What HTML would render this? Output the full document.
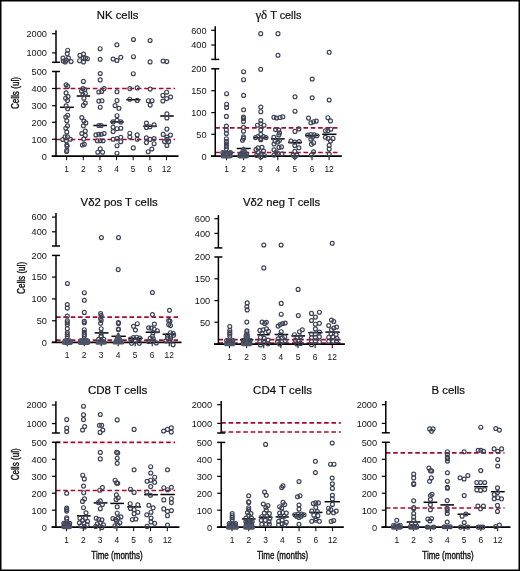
<!DOCTYPE html><html><head><meta charset="utf-8"><style>html,body{margin:0;padding:0;background:#fff;}svg{display:block;will-change:transform;}text{font-family:"Liberation Sans",sans-serif;fill:#111;}</style></head><body>
<svg width="520" height="571" viewBox="0 0 520 571">
<rect x="0" y="0" width="520" height="571" fill="#fff"/>
<text x="96.8" y="18.9" font-size="11.4" textLength="41.6" lengthAdjust="spacingAndGlyphs" fill="#000" stroke="#000" stroke-width="0.2">NK cells</text>
<line x1="56" y1="139.5" x2="175" y2="139.5" stroke="#a8082a" stroke-width="1.7" stroke-dasharray="4.6 2.75"/>
<line x1="56" y1="88.5" x2="175" y2="88.5" stroke="#a8082a" stroke-width="1.7" stroke-dasharray="4.6 2.75"/>
<line x1="56" y1="30.2" x2="56" y2="62.3" stroke="#000" stroke-width="1.5"/>
<line x1="52" y1="62.3" x2="60" y2="62.3" stroke="#000" stroke-width="1.5"/>
<line x1="52" y1="33.7" x2="56" y2="33.7" stroke="#000" stroke-width="1.2"/>
<line x1="52" y1="52.9" x2="56" y2="52.9" stroke="#000" stroke-width="1.2"/>
<line x1="56" y1="71.5" x2="56" y2="156.2" stroke="#000" stroke-width="1.5"/>
<line x1="52" y1="71.5" x2="60" y2="71.5" stroke="#000" stroke-width="1.5"/>
<line x1="52" y1="88.5" x2="56" y2="88.5" stroke="#000" stroke-width="1.2"/>
<line x1="52" y1="105.7" x2="56" y2="105.7" stroke="#000" stroke-width="1.2"/>
<line x1="52" y1="122.3" x2="56" y2="122.3" stroke="#000" stroke-width="1.2"/>
<line x1="52" y1="139.2" x2="56" y2="139.2" stroke="#000" stroke-width="1.2"/>
<line x1="52" y1="156.2" x2="56" y2="156.2" stroke="#000" stroke-width="1.2"/>
<line x1="51.7" y1="156.2" x2="178.5" y2="156.2" stroke="#000" stroke-width="1.7"/>
<line x1="66.6" y1="156.2" x2="66.6" y2="160.2" stroke="#000" stroke-width="1"/>
<text x="66.6" y="172" font-size="8.4" text-anchor="middle">1</text>
<line x1="83.25" y1="156.2" x2="83.25" y2="160.2" stroke="#000" stroke-width="1"/>
<text x="83.25" y="172" font-size="8.4" text-anchor="middle">2</text>
<line x1="99.9" y1="156.2" x2="99.9" y2="160.2" stroke="#000" stroke-width="1"/>
<text x="99.9" y="172" font-size="8.4" text-anchor="middle">3</text>
<line x1="116.55" y1="156.2" x2="116.55" y2="160.2" stroke="#000" stroke-width="1"/>
<text x="116.55" y="172" font-size="8.4" text-anchor="middle">4</text>
<line x1="133.2" y1="156.2" x2="133.2" y2="160.2" stroke="#000" stroke-width="1"/>
<text x="133.2" y="172" font-size="8.4" text-anchor="middle">5</text>
<line x1="149.85" y1="156.2" x2="149.85" y2="160.2" stroke="#000" stroke-width="1"/>
<text x="149.85" y="172" font-size="8.4" text-anchor="middle">6</text>
<line x1="166.5" y1="156.2" x2="166.5" y2="160.2" stroke="#000" stroke-width="1"/>
<text x="166.5" y="172" font-size="8.4" text-anchor="middle">12</text>
<text x="46.9" y="37" font-size="9.2" text-anchor="end">2000</text>
<text x="46.9" y="56.2" font-size="9.2" text-anchor="end">1000</text>
<text x="46.9" y="74.8" font-size="9.2" text-anchor="end">500</text>
<text x="46.9" y="91.8" font-size="9.2" text-anchor="end">400</text>
<text x="46.9" y="109" font-size="9.2" text-anchor="end">300</text>
<text x="46.9" y="125.6" font-size="9.2" text-anchor="end">200</text>
<text x="46.9" y="142.5" font-size="9.2" text-anchor="end">100</text>
<text x="46.9" y="159.5" font-size="9.2" text-anchor="end">0</text>
<text transform="translate(19.4,93.1) rotate(-90)" font-size="11.5" text-anchor="middle" textLength="32" lengthAdjust="spacingAndGlyphs" stroke="#111" stroke-width="0.4">Cells (ul)</text>
<line x1="60" y1="107.3" x2="73.8" y2="107.3" stroke="#000" stroke-width="1.5"/>
<line x1="76.7" y1="96" x2="90.1" y2="96" stroke="#000" stroke-width="1.5"/>
<line x1="93.4" y1="125.5" x2="107" y2="125.5" stroke="#000" stroke-width="1.5"/>
<line x1="110.3" y1="121.9" x2="123.7" y2="121.9" stroke="#000" stroke-width="1.5"/>
<line x1="126.3" y1="99.7" x2="140.5" y2="99.7" stroke="#000" stroke-width="1.5"/>
<line x1="143.2" y1="126.2" x2="156.8" y2="126.2" stroke="#000" stroke-width="1.5"/>
<line x1="160.25" y1="116" x2="173.75" y2="116" stroke="#000" stroke-width="1.5"/>
<g fill="none" stroke="#3e4355" stroke-width="1.2">
<circle cx="67.7" cy="50.2" r="1.95"/>
<circle cx="67.2" cy="53.8" r="1.95"/>
<circle cx="62.9" cy="58.1" r="1.95"/>
<circle cx="63.2" cy="61" r="1.95"/>
<circle cx="66.5" cy="60.3" r="1.95"/>
<circle cx="68.5" cy="58.1" r="1.95"/>
<circle cx="71.1" cy="61.6" r="1.95"/>
<circle cx="65.2" cy="62" r="1.95"/>
<circle cx="79.9" cy="55.4" r="1.95"/>
<circle cx="83.5" cy="54.1" r="1.95"/>
<circle cx="79.6" cy="60.7" r="1.95"/>
<circle cx="83.5" cy="62" r="1.95"/>
<circle cx="87.4" cy="58.7" r="1.95"/>
<circle cx="83.5" cy="58.1" r="1.95"/>
<circle cx="85.5" cy="58.1" r="1.95"/>
<circle cx="100.1" cy="48.7" r="1.95"/>
<circle cx="100.1" cy="59.25" r="1.95"/>
<circle cx="116.9" cy="44.8" r="1.95"/>
<circle cx="113.1" cy="59" r="1.95"/>
<circle cx="116.9" cy="60.5" r="1.95"/>
<circle cx="120.8" cy="57.3" r="1.95"/>
<circle cx="133.5" cy="39.5" r="1.95"/>
<circle cx="133.5" cy="56.7" r="1.95"/>
<circle cx="150.1" cy="40.5" r="1.95"/>
<circle cx="150.1" cy="61.9" r="1.95"/>
<circle cx="163.1" cy="61" r="1.95"/>
<circle cx="166.8" cy="61.6" r="1.95"/>
<circle cx="66.1" cy="84.75" r="1.95"/>
<circle cx="67.7" cy="86.4" r="1.95"/>
<circle cx="66.1" cy="92.9" r="1.95"/>
<circle cx="68" cy="96.6" r="1.95"/>
<circle cx="65.6" cy="98.2" r="1.95"/>
<circle cx="67.5" cy="100.6" r="1.95"/>
<circle cx="66.1" cy="105.9" r="1.95"/>
<circle cx="67.7" cy="108.8" r="1.95"/>
<circle cx="67.7" cy="115.2" r="1.95"/>
<circle cx="65.8" cy="117.1" r="1.95"/>
<circle cx="66.8" cy="120.7" r="1.95"/>
<circle cx="67.5" cy="125.8" r="1.95"/>
<circle cx="65.8" cy="128.2" r="1.95"/>
<circle cx="66.8" cy="132" r="1.95"/>
<circle cx="65.1" cy="136.8" r="1.95"/>
<circle cx="67.5" cy="136.8" r="1.95"/>
<circle cx="62.7" cy="139.5" r="1.95"/>
<circle cx="70.4" cy="139.25" r="1.95"/>
<circle cx="66.4" cy="140.7" r="1.95"/>
<circle cx="66.8" cy="145" r="1.95"/>
<circle cx="67.1" cy="146.3" r="1.95"/>
<circle cx="66.8" cy="150.3" r="1.95"/>
<circle cx="66.6" cy="151.5" r="1.95"/>
<circle cx="83.4" cy="81.4" r="1.95"/>
<circle cx="82.9" cy="88.6" r="1.95"/>
<circle cx="84.8" cy="89.6" r="1.95"/>
<circle cx="81.5" cy="91" r="1.95"/>
<circle cx="85.3" cy="93.4" r="1.95"/>
<circle cx="82.9" cy="94.8" r="1.95"/>
<circle cx="83.9" cy="98.2" r="1.95"/>
<circle cx="85.3" cy="103" r="1.95"/>
<circle cx="83.4" cy="105.4" r="1.95"/>
<circle cx="81.8" cy="117.6" r="1.95"/>
<circle cx="83.9" cy="121" r="1.95"/>
<circle cx="85.8" cy="122.9" r="1.95"/>
<circle cx="83.4" cy="125.8" r="1.95"/>
<circle cx="85.3" cy="131.1" r="1.95"/>
<circle cx="81.8" cy="133.5" r="1.95"/>
<circle cx="85.3" cy="135.4" r="1.95"/>
<circle cx="83.7" cy="139" r="1.95"/>
<circle cx="82.4" cy="145" r="1.95"/>
<circle cx="84.4" cy="144.3" r="1.95"/>
<circle cx="100.2" cy="73.5" r="1.95"/>
<circle cx="100.2" cy="79.9" r="1.95"/>
<circle cx="98.8" cy="92" r="1.95"/>
<circle cx="101.7" cy="91.5" r="1.95"/>
<circle cx="104.1" cy="88.6" r="1.95"/>
<circle cx="98.8" cy="101.1" r="1.95"/>
<circle cx="102" cy="100.8" r="1.95"/>
<circle cx="100.2" cy="107.2" r="1.95"/>
<circle cx="98.8" cy="125.5" r="1.95"/>
<circle cx="101.2" cy="125.5" r="1.95"/>
<circle cx="95.9" cy="134.9" r="1.95"/>
<circle cx="98.8" cy="134.2" r="1.95"/>
<circle cx="101.2" cy="134.2" r="1.95"/>
<circle cx="104.1" cy="133.5" r="1.95"/>
<circle cx="97.3" cy="140.7" r="1.95"/>
<circle cx="100.2" cy="140.7" r="1.95"/>
<circle cx="103.1" cy="140.7" r="1.95"/>
<circle cx="100.2" cy="148.9" r="1.95"/>
<circle cx="97.8" cy="152.2" r="1.95"/>
<circle cx="102.6" cy="152.2" r="1.95"/>
<circle cx="117" cy="91.8" r="1.95"/>
<circle cx="117" cy="100.6" r="1.95"/>
<circle cx="115.1" cy="105.6" r="1.95"/>
<circle cx="118.9" cy="108.3" r="1.95"/>
<circle cx="117" cy="115.7" r="1.95"/>
<circle cx="113.1" cy="121.9" r="1.95"/>
<circle cx="117" cy="120.3" r="1.95"/>
<circle cx="120.8" cy="121.9" r="1.95"/>
<circle cx="113.1" cy="127.2" r="1.95"/>
<circle cx="117" cy="128.7" r="1.95"/>
<circle cx="120.8" cy="128.2" r="1.95"/>
<circle cx="113.1" cy="131.6" r="1.95"/>
<circle cx="113.1" cy="139.25" r="1.95"/>
<circle cx="117" cy="138.6" r="1.95"/>
<circle cx="120.8" cy="137.3" r="1.95"/>
<circle cx="120.8" cy="141.7" r="1.95"/>
<circle cx="117" cy="145.7" r="1.95"/>
<circle cx="117" cy="153.2" r="1.95"/>
<circle cx="133.3" cy="73.7" r="1.95"/>
<circle cx="129.8" cy="88.6" r="1.95"/>
<circle cx="137.2" cy="87.9" r="1.95"/>
<circle cx="129.8" cy="99.2" r="1.95"/>
<circle cx="137.2" cy="100.4" r="1.95"/>
<circle cx="129.8" cy="133.2" r="1.95"/>
<circle cx="129.8" cy="137" r="1.95"/>
<circle cx="137.2" cy="134.9" r="1.95"/>
<circle cx="137.2" cy="139.25" r="1.95"/>
<circle cx="133.3" cy="147.9" r="1.95"/>
<circle cx="150.2" cy="89.1" r="1.95"/>
<circle cx="148.3" cy="100.7" r="1.95"/>
<circle cx="152.1" cy="100.7" r="1.95"/>
<circle cx="150.2" cy="105.1" r="1.95"/>
<circle cx="146.4" cy="123" r="1.95"/>
<circle cx="146.4" cy="127.6" r="1.95"/>
<circle cx="150" cy="126.7" r="1.95"/>
<circle cx="154.1" cy="124.8" r="1.95"/>
<circle cx="146.4" cy="137.9" r="1.95"/>
<circle cx="150" cy="139.4" r="1.95"/>
<circle cx="154.1" cy="138.5" r="1.95"/>
<circle cx="146.4" cy="142.6" r="1.95"/>
<circle cx="154.1" cy="143.7" r="1.95"/>
<circle cx="148.2" cy="151.7" r="1.95"/>
<circle cx="151.8" cy="149" r="1.95"/>
<circle cx="166.6" cy="92.2" r="1.95"/>
<circle cx="162.9" cy="95.4" r="1.95"/>
<circle cx="170.6" cy="97" r="1.95"/>
<circle cx="166.7" cy="98.6" r="1.95"/>
<circle cx="162.9" cy="101" r="1.95"/>
<circle cx="166.9" cy="113.9" r="1.95"/>
<circle cx="166.9" cy="118" r="1.95"/>
<circle cx="166.9" cy="129.1" r="1.95"/>
<circle cx="163.2" cy="134.4" r="1.95"/>
<circle cx="170.5" cy="135.1" r="1.95"/>
<circle cx="166.9" cy="137.1" r="1.95"/>
<circle cx="164.6" cy="141.5" r="1.95"/>
<circle cx="168.7" cy="141.5" r="1.95"/>
<circle cx="166.9" cy="139.4" r="1.95"/>
<circle cx="166.9" cy="145.5" r="1.95"/>
</g>
<text x="255.4" y="18.9" font-size="11.4" textLength="46" lengthAdjust="spacingAndGlyphs" fill="#000" stroke="#000" stroke-width="0.2"><tspan style="font-family:Liberation Serif;font-size:13.5px">γδ</tspan> T cells</text>
<line x1="215.25" y1="127.8" x2="337.7" y2="127.8" stroke="#a8082a" stroke-width="1.7" stroke-dasharray="4.6 2.75"/>
<line x1="215.25" y1="152.5" x2="337.7" y2="152.5" stroke="#a8082a" stroke-width="1.7" stroke-dasharray="4.6 2.75"/>
<line x1="215.25" y1="26.3" x2="215.25" y2="59.4" stroke="#000" stroke-width="1.5"/>
<line x1="211.25" y1="59.4" x2="219.25" y2="59.4" stroke="#000" stroke-width="1.5"/>
<line x1="211.25" y1="30.3" x2="215.25" y2="30.3" stroke="#000" stroke-width="1.2"/>
<line x1="211.25" y1="45" x2="215.25" y2="45" stroke="#000" stroke-width="1.2"/>
<line x1="215.25" y1="68.8" x2="215.25" y2="156.2" stroke="#000" stroke-width="1.5"/>
<line x1="211.25" y1="68.8" x2="219.25" y2="68.8" stroke="#000" stroke-width="1.5"/>
<line x1="211.25" y1="90.7" x2="215.25" y2="90.7" stroke="#000" stroke-width="1.2"/>
<line x1="211.25" y1="112.6" x2="215.25" y2="112.6" stroke="#000" stroke-width="1.2"/>
<line x1="211.25" y1="134.3" x2="215.25" y2="134.3" stroke="#000" stroke-width="1.2"/>
<line x1="211.25" y1="156.2" x2="215.25" y2="156.2" stroke="#000" stroke-width="1.2"/>
<line x1="210.95" y1="156.2" x2="341.8" y2="156.2" stroke="#000" stroke-width="1.7"/>
<line x1="226.5" y1="156.2" x2="226.5" y2="160.2" stroke="#000" stroke-width="1"/>
<text x="226.5" y="172" font-size="8.4" text-anchor="middle">1</text>
<line x1="243.6" y1="156.2" x2="243.6" y2="160.2" stroke="#000" stroke-width="1"/>
<text x="243.6" y="172" font-size="8.4" text-anchor="middle">2</text>
<line x1="260.7" y1="156.2" x2="260.7" y2="160.2" stroke="#000" stroke-width="1"/>
<text x="260.7" y="172" font-size="8.4" text-anchor="middle">3</text>
<line x1="277.8" y1="156.2" x2="277.8" y2="160.2" stroke="#000" stroke-width="1"/>
<text x="277.8" y="172" font-size="8.4" text-anchor="middle">4</text>
<line x1="294.9" y1="156.2" x2="294.9" y2="160.2" stroke="#000" stroke-width="1"/>
<text x="294.9" y="172" font-size="8.4" text-anchor="middle">5</text>
<line x1="312" y1="156.2" x2="312" y2="160.2" stroke="#000" stroke-width="1"/>
<text x="312" y="172" font-size="8.4" text-anchor="middle">6</text>
<line x1="329.1" y1="156.2" x2="329.1" y2="160.2" stroke="#000" stroke-width="1"/>
<text x="329.1" y="172" font-size="8.4" text-anchor="middle">12</text>
<text x="206.5" y="33.6" font-size="9.2" text-anchor="end">600</text>
<text x="206.5" y="48.3" font-size="9.2" text-anchor="end">400</text>
<text x="206.5" y="72.1" font-size="9.2" text-anchor="end">200</text>
<text x="206.5" y="94" font-size="9.2" text-anchor="end">150</text>
<text x="206.5" y="115.9" font-size="9.2" text-anchor="end">100</text>
<text x="206.5" y="137.6" font-size="9.2" text-anchor="end">50</text>
<text x="206.5" y="159.5" font-size="9.2" text-anchor="end">0</text>
<line x1="236.7" y1="148.5" x2="250.7" y2="148.5" stroke="#000" stroke-width="1.5"/>
<line x1="253.85" y1="137.6" x2="267.85" y2="137.6" stroke="#000" stroke-width="1.5"/>
<line x1="271" y1="138.9" x2="284.7" y2="138.9" stroke="#000" stroke-width="1.5"/>
<line x1="288.1" y1="142.5" x2="302.1" y2="142.5" stroke="#000" stroke-width="1.5"/>
<line x1="305" y1="135.4" x2="319.5" y2="135.4" stroke="#000" stroke-width="1.5"/>
<line x1="322.2" y1="134.3" x2="336.5" y2="134.3" stroke="#000" stroke-width="1.5"/>
<polygon points="222.5,156.4 223.45,153.1 230.05,153.1 231,156.4" fill="#4e5467" stroke="#4e5467" stroke-width="4" stroke-linejoin="round"/>
<polygon points="239.2,156.4 240.2,154.8 246.2,154.8 247.2,156.4" fill="#4e5467" stroke="#4e5467" stroke-width="4" stroke-linejoin="round"/>
<polygon points="241.4,152 243.6,148.1 243.8,148.1 246,152" fill="#4e5467" stroke="#4e5467" stroke-width="3" stroke-linejoin="round"/>
<g fill="none" stroke="#3e4355" stroke-width="1.2">
<circle cx="226.6" cy="93.7" r="1.95"/>
<circle cx="226.6" cy="104.2" r="1.95"/>
<circle cx="226.6" cy="107.5" r="1.95"/>
<circle cx="226.4" cy="116.4" r="1.95"/>
<circle cx="226.4" cy="126" r="1.95"/>
<circle cx="226.4" cy="129.9" r="1.95"/>
<circle cx="226.4" cy="133.4" r="1.95"/>
<circle cx="226.4" cy="138.7" r="1.95"/>
<circle cx="226.4" cy="141.6" r="1.95"/>
<circle cx="226.4" cy="144" r="1.95"/>
<circle cx="226.4" cy="146.4" r="1.95"/>
<circle cx="226.4" cy="148.8" r="1.95"/>
<circle cx="243.6" cy="71.7" r="1.95"/>
<circle cx="243.6" cy="79.7" r="1.95"/>
<circle cx="243.6" cy="95.4" r="1.95"/>
<circle cx="243.6" cy="109.8" r="1.95"/>
<circle cx="243.5" cy="117" r="1.95"/>
<circle cx="243.5" cy="118.5" r="1.95"/>
<circle cx="243.5" cy="121.4" r="1.95"/>
<circle cx="243.5" cy="127.4" r="1.95"/>
<circle cx="243.5" cy="131.2" r="1.95"/>
<circle cx="243.5" cy="136.8" r="1.95"/>
<circle cx="243.5" cy="138.2" r="1.95"/>
<circle cx="242.5" cy="140.2" r="1.95"/>
<circle cx="260.7" cy="33.65" r="1.95"/>
<circle cx="260.7" cy="69.3" r="1.95"/>
<circle cx="260.8" cy="107.1" r="1.95"/>
<circle cx="260.8" cy="111.7" r="1.95"/>
<circle cx="260.8" cy="120.6" r="1.95"/>
<circle cx="260.8" cy="123.8" r="1.95"/>
<circle cx="257.5" cy="125.2" r="1.95"/>
<circle cx="264" cy="125.2" r="1.95"/>
<circle cx="260.8" cy="129.9" r="1.95"/>
<circle cx="260.8" cy="134.4" r="1.95"/>
<circle cx="255.5" cy="137.6" r="1.95"/>
<circle cx="258" cy="136.5" r="1.95"/>
<circle cx="260.8" cy="138.5" r="1.95"/>
<circle cx="263.5" cy="136.5" r="1.95"/>
<circle cx="266" cy="137.6" r="1.95"/>
<circle cx="260.8" cy="139.7" r="1.95"/>
<circle cx="258" cy="147.9" r="1.95"/>
<circle cx="262" cy="147.4" r="1.95"/>
<circle cx="256" cy="149.5" r="1.95"/>
<circle cx="263.5" cy="151" r="1.95"/>
<circle cx="258.5" cy="152.5" r="1.95"/>
<circle cx="260.8" cy="154.5" r="1.95"/>
<circle cx="256.5" cy="155.5" r="1.95"/>
<circle cx="264.5" cy="155.5" r="1.95"/>
<circle cx="260.8" cy="157" r="1.95"/>
<circle cx="278" cy="33.65" r="1.95"/>
<circle cx="278" cy="55.3" r="1.95"/>
<circle cx="273.9" cy="117.3" r="1.95"/>
<circle cx="276.5" cy="118" r="1.95"/>
<circle cx="280" cy="117.5" r="1.95"/>
<circle cx="282.8" cy="116.8" r="1.95"/>
<circle cx="275.5" cy="129.6" r="1.95"/>
<circle cx="278.8" cy="130" r="1.95"/>
<circle cx="279.5" cy="132.9" r="1.95"/>
<circle cx="278.8" cy="134.9" r="1.95"/>
<circle cx="273.9" cy="137.3" r="1.95"/>
<circle cx="275" cy="141.1" r="1.95"/>
<circle cx="279.5" cy="140.2" r="1.95"/>
<circle cx="274" cy="144" r="1.95"/>
<circle cx="277.8" cy="142.1" r="1.95"/>
<circle cx="279" cy="147.4" r="1.95"/>
<circle cx="281.5" cy="146.9" r="1.95"/>
<circle cx="274" cy="149.8" r="1.95"/>
<circle cx="274" cy="155.1" r="1.95"/>
<circle cx="278" cy="153.2" r="1.95"/>
<circle cx="282" cy="153.7" r="1.95"/>
<circle cx="276" cy="152.2" r="1.95"/>
<circle cx="295" cy="96.8" r="1.95"/>
<circle cx="295" cy="111.2" r="1.95"/>
<circle cx="295" cy="131.4" r="1.95"/>
<circle cx="298.9" cy="128.9" r="1.95"/>
<circle cx="291" cy="141.1" r="1.95"/>
<circle cx="294.8" cy="142.1" r="1.95"/>
<circle cx="299.1" cy="141.6" r="1.95"/>
<circle cx="294.8" cy="145.4" r="1.95"/>
<circle cx="298.9" cy="147.8" r="1.95"/>
<circle cx="294.8" cy="151.3" r="1.95"/>
<circle cx="293.1" cy="155" r="1.95"/>
<circle cx="296.9" cy="155" r="1.95"/>
<circle cx="294.8" cy="156.7" r="1.95"/>
<circle cx="312.2" cy="79" r="1.95"/>
<circle cx="312.2" cy="97.8" r="1.95"/>
<circle cx="308.5" cy="118.1" r="1.95"/>
<circle cx="310.9" cy="122.8" r="1.95"/>
<circle cx="313.6" cy="121.7" r="1.95"/>
<circle cx="316.3" cy="121.1" r="1.95"/>
<circle cx="307.7" cy="135.1" r="1.95"/>
<circle cx="310.9" cy="134.6" r="1.95"/>
<circle cx="314.1" cy="134.9" r="1.95"/>
<circle cx="316.8" cy="135.7" r="1.95"/>
<circle cx="312.5" cy="137.3" r="1.95"/>
<circle cx="310.9" cy="139.2" r="1.95"/>
<circle cx="311.4" cy="144.3" r="1.95"/>
<circle cx="313.6" cy="142.7" r="1.95"/>
<circle cx="313.6" cy="151.8" r="1.95"/>
<circle cx="311.4" cy="155" r="1.95"/>
<circle cx="329.2" cy="52.3" r="1.95"/>
<circle cx="329.2" cy="100" r="1.95"/>
<circle cx="327.9" cy="117.7" r="1.95"/>
<circle cx="330.5" cy="120.9" r="1.95"/>
<circle cx="325.4" cy="130.8" r="1.95"/>
<circle cx="327.9" cy="130.8" r="1.95"/>
<circle cx="330.8" cy="129.2" r="1.95"/>
<circle cx="325.4" cy="137.3" r="1.95"/>
<circle cx="328.1" cy="138.4" r="1.95"/>
<circle cx="333" cy="138.4" r="1.95"/>
<circle cx="330.5" cy="141.1" r="1.95"/>
<circle cx="329.2" cy="145.4" r="1.95"/>
<circle cx="329.2" cy="149.1" r="1.95"/>
<circle cx="329.2" cy="154" r="1.95"/>
<circle cx="222.8" cy="152.6" r="1.95"/>
<circle cx="230.4" cy="152.6" r="1.95"/>
<circle cx="240.2" cy="154.2" r="1.95"/>
<circle cx="246.6" cy="154.2" r="1.95"/>
</g>
<text x="80.6" y="205.7" font-size="11.4" textLength="77" lengthAdjust="spacingAndGlyphs" fill="#000" stroke="#000" stroke-width="0.2">Vδ2 pos T cells</text>
<line x1="56" y1="317.1" x2="178" y2="317.1" stroke="#a8082a" stroke-width="1.7" stroke-dasharray="4.6 2.75"/>
<line x1="56" y1="340.1" x2="178" y2="340.1" stroke="#a8082a" stroke-width="1.7" stroke-dasharray="4.6 2.75"/>
<line x1="56" y1="213.1" x2="56" y2="246" stroke="#000" stroke-width="1.5"/>
<line x1="52" y1="246" x2="60" y2="246" stroke="#000" stroke-width="1.5"/>
<line x1="52" y1="217.1" x2="56" y2="217.1" stroke="#000" stroke-width="1.2"/>
<line x1="52" y1="231.8" x2="56" y2="231.8" stroke="#000" stroke-width="1.2"/>
<line x1="56" y1="255.4" x2="56" y2="342.3" stroke="#000" stroke-width="1.5"/>
<line x1="52" y1="255.4" x2="60" y2="255.4" stroke="#000" stroke-width="1.5"/>
<line x1="52" y1="277.1" x2="56" y2="277.1" stroke="#000" stroke-width="1.2"/>
<line x1="52" y1="298.9" x2="56" y2="298.9" stroke="#000" stroke-width="1.2"/>
<line x1="52" y1="320.8" x2="56" y2="320.8" stroke="#000" stroke-width="1.2"/>
<line x1="52" y1="342.3" x2="56" y2="342.3" stroke="#000" stroke-width="1.2"/>
<line x1="51.7" y1="342.3" x2="181.5" y2="342.3" stroke="#000" stroke-width="1.7"/>
<line x1="67.2" y1="342.3" x2="67.2" y2="346.3" stroke="#000" stroke-width="1"/>
<text x="67.2" y="358.1" font-size="8.4" text-anchor="middle">1</text>
<line x1="84.2" y1="342.3" x2="84.2" y2="346.3" stroke="#000" stroke-width="1"/>
<text x="84.2" y="358.1" font-size="8.4" text-anchor="middle">2</text>
<line x1="101.2" y1="342.3" x2="101.2" y2="346.3" stroke="#000" stroke-width="1"/>
<text x="101.2" y="358.1" font-size="8.4" text-anchor="middle">3</text>
<line x1="118.2" y1="342.3" x2="118.2" y2="346.3" stroke="#000" stroke-width="1"/>
<text x="118.2" y="358.1" font-size="8.4" text-anchor="middle">4</text>
<line x1="135.2" y1="342.3" x2="135.2" y2="346.3" stroke="#000" stroke-width="1"/>
<text x="135.2" y="358.1" font-size="8.4" text-anchor="middle">5</text>
<line x1="152.2" y1="342.3" x2="152.2" y2="346.3" stroke="#000" stroke-width="1"/>
<text x="152.2" y="358.1" font-size="8.4" text-anchor="middle">6</text>
<line x1="169.2" y1="342.3" x2="169.2" y2="346.3" stroke="#000" stroke-width="1"/>
<text x="169.2" y="358.1" font-size="8.4" text-anchor="middle">12</text>
<text x="46.9" y="220.4" font-size="9.2" text-anchor="end">600</text>
<text x="46.9" y="235.1" font-size="9.2" text-anchor="end">400</text>
<text x="46.9" y="258.7" font-size="9.2" text-anchor="end">200</text>
<text x="46.9" y="280.4" font-size="9.2" text-anchor="end">150</text>
<text x="46.9" y="302.2" font-size="9.2" text-anchor="end">100</text>
<text x="46.9" y="324.1" font-size="9.2" text-anchor="end">50</text>
<text x="46.9" y="345.6" font-size="9.2" text-anchor="end">0</text>
<text transform="translate(24.9,277.9) rotate(-90)" font-size="11.5" text-anchor="middle" textLength="32" lengthAdjust="spacingAndGlyphs" stroke="#111" stroke-width="0.4">Cells (ul)</text>
<line x1="94.7" y1="332.9" x2="108.5" y2="332.9" stroke="#000" stroke-width="1.5"/>
<line x1="111.4" y1="336.3" x2="125.8" y2="336.3" stroke="#000" stroke-width="1.5"/>
<line x1="145.6" y1="332.2" x2="159.8" y2="332.2" stroke="#000" stroke-width="1.5"/>
<line x1="162.6" y1="334.3" x2="176.1" y2="334.3" stroke="#000" stroke-width="1.5"/>
<line x1="128.5" y1="338.3" x2="142.7" y2="338.3" stroke="#000" stroke-width="1.5"/>
<polygon points="64.1,342.5 65,340.7 69.6,340.7 70.5,342.5" fill="#4e5467" stroke="#4e5467" stroke-width="5" stroke-linejoin="round"/>
<polygon points="80.1,342.5 81,340.5 87,340.5 87.9,342.5" fill="#4e5467" stroke="#4e5467" stroke-width="5" stroke-linejoin="round"/>
<polygon points="97,343.2 99.7,340 102.7,340 105.4,343.2" fill="#4e5467" stroke="#4e5467" stroke-width="3" stroke-linejoin="round"/>
<polygon points="113.7,343.3 118.3,333.8 118.3,333.8 122.9,343.3" fill="#4e5467" stroke="#4e5467" stroke-width="2.4" stroke-linejoin="round"/>
<g fill="none" stroke="#3e4355" stroke-width="1.2">
<circle cx="67.4" cy="283.5" r="1.95"/>
<circle cx="67.3" cy="304.5" r="1.95"/>
<circle cx="67.3" cy="308.1" r="1.95"/>
<circle cx="67.3" cy="316" r="1.95"/>
<circle cx="67.3" cy="320.9" r="1.95"/>
<circle cx="67.3" cy="322.8" r="1.95"/>
<circle cx="67.3" cy="324.8" r="1.95"/>
<circle cx="67.3" cy="328.7" r="1.95"/>
<circle cx="67.3" cy="332.6" r="1.95"/>
<circle cx="67.3" cy="334.6" r="1.95"/>
<circle cx="67.3" cy="336.6" r="1.95"/>
<circle cx="84.3" cy="292.7" r="1.95"/>
<circle cx="84.3" cy="300.3" r="1.95"/>
<circle cx="84.3" cy="312.4" r="1.95"/>
<circle cx="84.3" cy="321.4" r="1.95"/>
<circle cx="84.3" cy="322.8" r="1.95"/>
<circle cx="101.4" cy="237.6" r="1.95"/>
<circle cx="100.6" cy="313.5" r="1.95"/>
<circle cx="101.2" cy="315.5" r="1.95"/>
<circle cx="100.6" cy="318.4" r="1.95"/>
<circle cx="101.2" cy="320.4" r="1.95"/>
<circle cx="100.6" cy="323.3" r="1.95"/>
<circle cx="101.2" cy="328.7" r="1.95"/>
<circle cx="101.2" cy="333.1" r="1.95"/>
<circle cx="101.2" cy="336.1" r="1.95"/>
<circle cx="118.5" cy="237.6" r="1.95"/>
<circle cx="118.2" cy="269.6" r="1.95"/>
<circle cx="133.5" cy="326.3" r="1.95"/>
<circle cx="137.3" cy="323.7" r="1.95"/>
<circle cx="135.4" cy="330.1" r="1.95"/>
<circle cx="152.4" cy="292.5" r="1.95"/>
<circle cx="152.4" cy="314.6" r="1.95"/>
<circle cx="154.4" cy="324.1" r="1.95"/>
<circle cx="148.6" cy="327.8" r="1.95"/>
<circle cx="151.2" cy="328.1" r="1.95"/>
<circle cx="154.2" cy="329.2" r="1.95"/>
<circle cx="157.3" cy="330.7" r="1.95"/>
<circle cx="153" cy="332.7" r="1.95"/>
<circle cx="152.4" cy="336.3" r="1.95"/>
<circle cx="150.2" cy="338.3" r="1.95"/>
<circle cx="153.2" cy="338.8" r="1.95"/>
<circle cx="148.6" cy="341.4" r="1.95"/>
<circle cx="156.3" cy="342.9" r="1.95"/>
<circle cx="152" cy="341.4" r="1.95"/>
<circle cx="169.5" cy="310.3" r="1.95"/>
<circle cx="168.7" cy="320.5" r="1.95"/>
<circle cx="170" cy="321" r="1.95"/>
<circle cx="168.7" cy="324.6" r="1.95"/>
<circle cx="170.5" cy="325.6" r="1.95"/>
<circle cx="170.5" cy="332.7" r="1.95"/>
<circle cx="173.1" cy="333.2" r="1.95"/>
<circle cx="167.5" cy="335.3" r="1.95"/>
<circle cx="170.5" cy="336.3" r="1.95"/>
<circle cx="173.6" cy="335.3" r="1.95"/>
<circle cx="167.5" cy="337.8" r="1.95"/>
<circle cx="170.5" cy="338.8" r="1.95"/>
<circle cx="166" cy="340.9" r="1.95"/>
<circle cx="169.5" cy="340.9" r="1.95"/>
<circle cx="173.1" cy="344.7" r="1.95"/>
<circle cx="118.4" cy="322.6" r="1.95"/>
<circle cx="118.4" cy="323.4" r="1.95"/>
<circle cx="118.4" cy="329.1" r="1.95"/>
<circle cx="118.4" cy="329.6" r="1.95"/>
<circle cx="130.6" cy="339" r="1.95"/>
<circle cx="133.4" cy="337.6" r="1.95"/>
<circle cx="136.6" cy="337.2" r="1.95"/>
<circle cx="139.6" cy="338" r="1.95"/>
<circle cx="131.6" cy="343.3" r="1.95"/>
<circle cx="139.3" cy="343.3" r="1.95"/>
<circle cx="135.3" cy="341.2" r="1.95"/>
<circle cx="84.3" cy="329.7" r="1.95"/>
<circle cx="84.3" cy="332.3" r="1.95"/>
<circle cx="84.3" cy="334.4" r="1.95"/>
<circle cx="84.3" cy="336.2" r="1.95"/>
<circle cx="98.6" cy="339.3" r="1.95"/>
<circle cx="103.8" cy="339.3" r="1.95"/>
<circle cx="101.2" cy="336.2" r="1.95"/>
</g>
<text x="243.1" y="205.7" font-size="11.4" textLength="77" lengthAdjust="spacingAndGlyphs" fill="#000" stroke="#000" stroke-width="0.2">Vδ2 neg T cells</text>
<line x1="218.4" y1="339.6" x2="341" y2="339.6" stroke="#a8082a" stroke-width="1.7" stroke-dasharray="4.6 2.75"/>
<line x1="218.4" y1="343" x2="341" y2="343" stroke="#a8082a" stroke-width="1.7" stroke-dasharray="4.6 2.75"/>
<line x1="218.4" y1="215" x2="218.4" y2="247.9" stroke="#000" stroke-width="1.5"/>
<line x1="214.4" y1="247.9" x2="222.4" y2="247.9" stroke="#000" stroke-width="1.5"/>
<line x1="214.4" y1="218.7" x2="218.4" y2="218.7" stroke="#000" stroke-width="1.2"/>
<line x1="214.4" y1="233.4" x2="218.4" y2="233.4" stroke="#000" stroke-width="1.2"/>
<line x1="218.4" y1="257" x2="218.4" y2="344.2" stroke="#000" stroke-width="1.5"/>
<line x1="214.4" y1="257" x2="222.4" y2="257" stroke="#000" stroke-width="1.5"/>
<line x1="214.4" y1="278.8" x2="218.4" y2="278.8" stroke="#000" stroke-width="1.2"/>
<line x1="214.4" y1="300.6" x2="218.4" y2="300.6" stroke="#000" stroke-width="1.2"/>
<line x1="214.4" y1="322.2" x2="218.4" y2="322.2" stroke="#000" stroke-width="1.2"/>
<line x1="214.4" y1="344.2" x2="218.4" y2="344.2" stroke="#000" stroke-width="1.2"/>
<line x1="214.1" y1="344.2" x2="344.9" y2="344.2" stroke="#000" stroke-width="1.7"/>
<line x1="229.5" y1="344.2" x2="229.5" y2="348.2" stroke="#000" stroke-width="1"/>
<text x="229.5" y="360" font-size="8.4" text-anchor="middle">1</text>
<line x1="246.63" y1="344.2" x2="246.63" y2="348.2" stroke="#000" stroke-width="1"/>
<text x="246.63" y="360" font-size="8.4" text-anchor="middle">2</text>
<line x1="263.76" y1="344.2" x2="263.76" y2="348.2" stroke="#000" stroke-width="1"/>
<text x="263.76" y="360" font-size="8.4" text-anchor="middle">3</text>
<line x1="280.89" y1="344.2" x2="280.89" y2="348.2" stroke="#000" stroke-width="1"/>
<text x="280.89" y="360" font-size="8.4" text-anchor="middle">4</text>
<line x1="298.02" y1="344.2" x2="298.02" y2="348.2" stroke="#000" stroke-width="1"/>
<text x="298.02" y="360" font-size="8.4" text-anchor="middle">5</text>
<line x1="315.15" y1="344.2" x2="315.15" y2="348.2" stroke="#000" stroke-width="1"/>
<text x="315.15" y="360" font-size="8.4" text-anchor="middle">6</text>
<line x1="332.28" y1="344.2" x2="332.28" y2="348.2" stroke="#000" stroke-width="1"/>
<text x="332.28" y="360" font-size="8.4" text-anchor="middle">12</text>
<text x="210.2" y="222" font-size="9.2" text-anchor="end">600</text>
<text x="210.2" y="236.7" font-size="9.2" text-anchor="end">400</text>
<text x="210.2" y="260.3" font-size="9.2" text-anchor="end">200</text>
<text x="210.2" y="282.1" font-size="9.2" text-anchor="end">150</text>
<text x="210.2" y="303.9" font-size="9.2" text-anchor="end">100</text>
<text x="210.2" y="325.5" font-size="9.2" text-anchor="end">50</text>
<line x1="240" y1="339.7" x2="253.4" y2="339.7" stroke="#000" stroke-width="1.5"/>
<line x1="257.2" y1="334.7" x2="269.6" y2="334.7" stroke="#000" stroke-width="1.5"/>
<line x1="274.6" y1="334.5" x2="288.3" y2="334.5" stroke="#000" stroke-width="1.5"/>
<line x1="291.3" y1="335.9" x2="305.1" y2="335.9" stroke="#000" stroke-width="1.5"/>
<line x1="308.2" y1="332.6" x2="322.6" y2="332.6" stroke="#000" stroke-width="1.5"/>
<line x1="325.4" y1="332.1" x2="339.8" y2="332.1" stroke="#000" stroke-width="1.5"/>
<polygon points="225.8,344.2 228.2,340.6 231.2,340.6 233.6,344.2" fill="#4e5467" stroke="#4e5467" stroke-width="4" stroke-linejoin="round"/>
<polygon points="242.8,344.2 244.65,340 248.65,340 250.5,344.2" fill="#4e5467" stroke="#4e5467" stroke-width="4" stroke-linejoin="round"/>
<polygon points="245.4,336.5 246.6,331.2 247,331.2 248.2,336.5" fill="#4e5467" stroke="#4e5467" stroke-width="4" stroke-linejoin="round"/>
<circle cx="246.9" cy="330.9" r="1.95" fill="#a4a8b5" stroke="#3e4355" stroke-width="1.2"/>
<g fill="none" stroke="#3e4355" stroke-width="1.2">
<circle cx="229.8" cy="326.6" r="1.95"/>
<circle cx="229.8" cy="330.4" r="1.95"/>
<circle cx="229.8" cy="332.5" r="1.95"/>
<circle cx="229.8" cy="334.1" r="1.95"/>
<circle cx="229.8" cy="336.3" r="1.95"/>
<circle cx="247.2" cy="302.9" r="1.95"/>
<circle cx="246.8" cy="306.7" r="1.95"/>
<circle cx="247.2" cy="309.9" r="1.95"/>
<circle cx="246.8" cy="322.1" r="1.95"/>
<circle cx="263.8" cy="245" r="1.95"/>
<circle cx="263.8" cy="267.9" r="1.95"/>
<circle cx="262.1" cy="322.1" r="1.95"/>
<circle cx="264.7" cy="323.4" r="1.95"/>
<circle cx="266.4" cy="322.3" r="1.95"/>
<circle cx="259.9" cy="330.4" r="1.95"/>
<circle cx="263.1" cy="329.8" r="1.95"/>
<circle cx="266.4" cy="328.8" r="1.95"/>
<circle cx="268.5" cy="331.4" r="1.95"/>
<circle cx="262.1" cy="333.6" r="1.95"/>
<circle cx="260.4" cy="337.4" r="1.95"/>
<circle cx="264.2" cy="338.4" r="1.95"/>
<circle cx="268" cy="340.1" r="1.95"/>
<circle cx="259.9" cy="341.7" r="1.95"/>
<circle cx="264.2" cy="342.7" r="1.95"/>
<circle cx="268" cy="343.8" r="1.95"/>
<circle cx="260.4" cy="344.9" r="1.95"/>
<circle cx="281.1" cy="245" r="1.95"/>
<circle cx="281.2" cy="303.4" r="1.95"/>
<circle cx="281.2" cy="314.2" r="1.95"/>
<circle cx="278.1" cy="326.1" r="1.95"/>
<circle cx="280.2" cy="324.6" r="1.95"/>
<circle cx="282.7" cy="323.5" r="1.95"/>
<circle cx="285.2" cy="323" r="1.95"/>
<circle cx="281.2" cy="331.7" r="1.95"/>
<circle cx="280.2" cy="334.7" r="1.95"/>
<circle cx="284.7" cy="336.7" r="1.95"/>
<circle cx="278.1" cy="338.8" r="1.95"/>
<circle cx="282.2" cy="337.8" r="1.95"/>
<circle cx="277.6" cy="341.8" r="1.95"/>
<circle cx="281.7" cy="341.3" r="1.95"/>
<circle cx="285.2" cy="340.8" r="1.95"/>
<circle cx="279.7" cy="343.9" r="1.95"/>
<circle cx="298.1" cy="289.4" r="1.95"/>
<circle cx="298.3" cy="315.6" r="1.95"/>
<circle cx="294.4" cy="334.7" r="1.95"/>
<circle cx="299.5" cy="331.7" r="1.95"/>
<circle cx="302.3" cy="329.8" r="1.95"/>
<circle cx="297.4" cy="337.8" r="1.95"/>
<circle cx="300.5" cy="336.7" r="1.95"/>
<circle cx="295.4" cy="340.3" r="1.95"/>
<circle cx="299" cy="340.8" r="1.95"/>
<circle cx="296.9" cy="343.9" r="1.95"/>
<circle cx="300.5" cy="343.4" r="1.95"/>
<circle cx="311.5" cy="313.4" r="1.95"/>
<circle cx="319.4" cy="312.2" r="1.95"/>
<circle cx="315.4" cy="317.1" r="1.95"/>
<circle cx="311.5" cy="320.5" r="1.95"/>
<circle cx="315.4" cy="324.2" r="1.95"/>
<circle cx="319.4" cy="323.3" r="1.95"/>
<circle cx="315.4" cy="328.9" r="1.95"/>
<circle cx="311.5" cy="334" r="1.95"/>
<circle cx="315.4" cy="334" r="1.95"/>
<circle cx="319.4" cy="332.1" r="1.95"/>
<circle cx="311.5" cy="337.7" r="1.95"/>
<circle cx="315.4" cy="337.2" r="1.95"/>
<circle cx="319.4" cy="336.8" r="1.95"/>
<circle cx="311.5" cy="341.4" r="1.95"/>
<circle cx="315.4" cy="341.4" r="1.95"/>
<circle cx="319.4" cy="341.9" r="1.95"/>
<circle cx="311.5" cy="344.7" r="1.95"/>
<circle cx="332.2" cy="243.3" r="1.95"/>
<circle cx="331.5" cy="320.1" r="1.95"/>
<circle cx="333.8" cy="321.5" r="1.95"/>
<circle cx="328.7" cy="325.6" r="1.95"/>
<circle cx="333.8" cy="328" r="1.95"/>
<circle cx="336.6" cy="327" r="1.95"/>
<circle cx="331.5" cy="329.8" r="1.95"/>
<circle cx="331" cy="334" r="1.95"/>
<circle cx="336.1" cy="334.5" r="1.95"/>
<circle cx="328.7" cy="337.2" r="1.95"/>
<circle cx="332.9" cy="336.8" r="1.95"/>
<circle cx="337" cy="338.6" r="1.95"/>
<circle cx="328.7" cy="341.4" r="1.95"/>
<circle cx="332.9" cy="341.4" r="1.95"/>
<circle cx="336.6" cy="341" r="1.95"/>
<circle cx="226.6" cy="340.5" r="1.95"/>
<circle cx="232.8" cy="340.5" r="1.95"/>
<circle cx="243.2" cy="340.2" r="1.95"/>
<circle cx="250.2" cy="340.2" r="1.95"/>
</g>
<text x="87.9" y="393.7" font-size="11.4" textLength="59.4" lengthAdjust="spacingAndGlyphs" fill="#000" stroke="#000" stroke-width="0.2">CD8 T cells</text>
<line x1="55.9" y1="442.3" x2="175" y2="442.3" stroke="#a8082a" stroke-width="1.7" stroke-dasharray="4.6 2.75"/>
<line x1="55.9" y1="490.5" x2="175" y2="490.5" stroke="#a8082a" stroke-width="1.7" stroke-dasharray="4.6 2.75"/>
<line x1="55.9" y1="401.3" x2="55.9" y2="433" stroke="#000" stroke-width="1.5"/>
<line x1="51.9" y1="433" x2="59.9" y2="433" stroke="#000" stroke-width="1.5"/>
<line x1="51.9" y1="405" x2="55.9" y2="405" stroke="#000" stroke-width="1.2"/>
<line x1="51.9" y1="423.6" x2="55.9" y2="423.6" stroke="#000" stroke-width="1.2"/>
<line x1="55.9" y1="442.3" x2="55.9" y2="527.2" stroke="#000" stroke-width="1.5"/>
<line x1="51.9" y1="442.3" x2="59.9" y2="442.3" stroke="#000" stroke-width="1.5"/>
<line x1="51.9" y1="459.3" x2="55.9" y2="459.3" stroke="#000" stroke-width="1.2"/>
<line x1="51.9" y1="476.3" x2="55.9" y2="476.3" stroke="#000" stroke-width="1.2"/>
<line x1="51.9" y1="493.2" x2="55.9" y2="493.2" stroke="#000" stroke-width="1.2"/>
<line x1="51.9" y1="510.2" x2="55.9" y2="510.2" stroke="#000" stroke-width="1.2"/>
<line x1="51.9" y1="527.2" x2="55.9" y2="527.2" stroke="#000" stroke-width="1.2"/>
<line x1="51.6" y1="527.2" x2="179.4" y2="527.2" stroke="#000" stroke-width="1.7"/>
<line x1="66.5" y1="527.2" x2="66.5" y2="531.2" stroke="#000" stroke-width="1"/>
<text x="66.5" y="543" font-size="8.4" text-anchor="middle">1</text>
<line x1="83.3" y1="527.2" x2="83.3" y2="531.2" stroke="#000" stroke-width="1"/>
<text x="83.3" y="543" font-size="8.4" text-anchor="middle">2</text>
<line x1="100.1" y1="527.2" x2="100.1" y2="531.2" stroke="#000" stroke-width="1"/>
<text x="100.1" y="543" font-size="8.4" text-anchor="middle">3</text>
<line x1="116.9" y1="527.2" x2="116.9" y2="531.2" stroke="#000" stroke-width="1"/>
<text x="116.9" y="543" font-size="8.4" text-anchor="middle">4</text>
<line x1="133.7" y1="527.2" x2="133.7" y2="531.2" stroke="#000" stroke-width="1"/>
<text x="133.7" y="543" font-size="8.4" text-anchor="middle">5</text>
<line x1="150.5" y1="527.2" x2="150.5" y2="531.2" stroke="#000" stroke-width="1"/>
<text x="150.5" y="543" font-size="8.4" text-anchor="middle">6</text>
<line x1="167.3" y1="527.2" x2="167.3" y2="531.2" stroke="#000" stroke-width="1"/>
<text x="167.3" y="543" font-size="8.4" text-anchor="middle">12</text>
<text x="46.9" y="408.3" font-size="9.2" text-anchor="end">2000</text>
<text x="46.9" y="426.9" font-size="9.2" text-anchor="end">1000</text>
<text x="46.9" y="445.6" font-size="9.2" text-anchor="end">500</text>
<text x="46.9" y="462.6" font-size="9.2" text-anchor="end">400</text>
<text x="46.9" y="479.6" font-size="9.2" text-anchor="end">300</text>
<text x="46.9" y="496.5" font-size="9.2" text-anchor="end">200</text>
<text x="46.9" y="513.5" font-size="9.2" text-anchor="end">100</text>
<text x="46.9" y="530.5" font-size="9.2" text-anchor="end">0</text>
<text transform="translate(19.4,464.3) rotate(-90)" font-size="11.5" text-anchor="middle" textLength="32" lengthAdjust="spacingAndGlyphs" stroke="#111" stroke-width="0.4">Cells (ul)</text>
<text x="91.3" y="559.4" font-size="11.2" textLength="51.4" lengthAdjust="spacingAndGlyphs" stroke="#111" stroke-width="0.4">Time (months)</text>
<line x1="76.9" y1="515.9" x2="90.6" y2="515.9" stroke="#000" stroke-width="1.5"/>
<line x1="93.7" y1="502.9" x2="107.5" y2="502.9" stroke="#000" stroke-width="1.5"/>
<line x1="110.3" y1="503.4" x2="124" y2="503.4" stroke="#000" stroke-width="1.5"/>
<line x1="127.2" y1="506.9" x2="141" y2="506.9" stroke="#000" stroke-width="1.5"/>
<line x1="144.2" y1="494.7" x2="157.9" y2="494.7" stroke="#000" stroke-width="1.5"/>
<line x1="160.4" y1="494.5" x2="174.8" y2="494.5" stroke="#000" stroke-width="1.5"/>
<polygon points="63.7,526.7 64.75,523.8 68.75,523.8 69.8,526.7" fill="#4e5467" stroke="#4e5467" stroke-width="5" stroke-linejoin="round"/>
<g fill="none" stroke="#3e4355" stroke-width="1.2">
<circle cx="66.7" cy="419.6" r="1.95"/>
<circle cx="66.7" cy="428" r="1.95"/>
<circle cx="66.7" cy="431.6" r="1.95"/>
<circle cx="66.7" cy="493.3" r="1.95"/>
<circle cx="66.7" cy="508" r="1.95"/>
<circle cx="66.7" cy="509.6" r="1.95"/>
<circle cx="66.7" cy="511.1" r="1.95"/>
<circle cx="66.7" cy="517.9" r="1.95"/>
<circle cx="66.7" cy="519.2" r="1.95"/>
<circle cx="83.5" cy="406.2" r="1.95"/>
<circle cx="83.5" cy="414.9" r="1.95"/>
<circle cx="83.5" cy="419.6" r="1.95"/>
<circle cx="84.6" cy="426.6" r="1.95"/>
<circle cx="82.6" cy="430" r="1.95"/>
<circle cx="82.7" cy="475.2" r="1.95"/>
<circle cx="84.3" cy="478.9" r="1.95"/>
<circle cx="83.5" cy="486.1" r="1.95"/>
<circle cx="83.7" cy="492.7" r="1.95"/>
<circle cx="84.5" cy="498.9" r="1.95"/>
<circle cx="82.5" cy="501.4" r="1.95"/>
<circle cx="83.5" cy="507.7" r="1.95"/>
<circle cx="86" cy="512.8" r="1.95"/>
<circle cx="79.9" cy="518.2" r="1.95"/>
<circle cx="85.5" cy="518.2" r="1.95"/>
<circle cx="82.5" cy="520.3" r="1.95"/>
<circle cx="87.6" cy="521.3" r="1.95"/>
<circle cx="79.4" cy="522.8" r="1.95"/>
<circle cx="84" cy="523.3" r="1.95"/>
<circle cx="87.1" cy="524.9" r="1.95"/>
<circle cx="81" cy="525.9" r="1.95"/>
<circle cx="84.5" cy="526.9" r="1.95"/>
<circle cx="100.3" cy="414.5" r="1.95"/>
<circle cx="99.4" cy="425.3" r="1.95"/>
<circle cx="101.7" cy="425.3" r="1.95"/>
<circle cx="102.8" cy="430" r="1.95"/>
<circle cx="100.1" cy="432.4" r="1.95"/>
<circle cx="100.3" cy="452.4" r="1.95"/>
<circle cx="100.3" cy="458.9" r="1.95"/>
<circle cx="102.4" cy="487.6" r="1.95"/>
<circle cx="99.8" cy="490.2" r="1.95"/>
<circle cx="100.3" cy="500.9" r="1.95"/>
<circle cx="98.3" cy="502.6" r="1.95"/>
<circle cx="102.4" cy="504.5" r="1.95"/>
<circle cx="100.3" cy="508.7" r="1.95"/>
<circle cx="96.2" cy="518.2" r="1.95"/>
<circle cx="98.8" cy="519.2" r="1.95"/>
<circle cx="101.9" cy="519.8" r="1.95"/>
<circle cx="97.3" cy="523.8" r="1.95"/>
<circle cx="100.3" cy="522.8" r="1.95"/>
<circle cx="103.4" cy="524.9" r="1.95"/>
<circle cx="95.7" cy="526.4" r="1.95"/>
<circle cx="101.9" cy="527.4" r="1.95"/>
<circle cx="117.2" cy="419.9" r="1.95"/>
<circle cx="116.6" cy="452.2" r="1.95"/>
<circle cx="117.7" cy="452.9" r="1.95"/>
<circle cx="117.2" cy="458.2" r="1.95"/>
<circle cx="117.2" cy="463.3" r="1.95"/>
<circle cx="115.1" cy="480.2" r="1.95"/>
<circle cx="116.6" cy="482.9" r="1.95"/>
<circle cx="117.7" cy="483.2" r="1.95"/>
<circle cx="116.4" cy="494.9" r="1.95"/>
<circle cx="118.2" cy="497.7" r="1.95"/>
<circle cx="116.1" cy="499.5" r="1.95"/>
<circle cx="117.2" cy="506.9" r="1.95"/>
<circle cx="117.2" cy="513.2" r="1.95"/>
<circle cx="112.9" cy="518.5" r="1.95"/>
<circle cx="115.6" cy="519.6" r="1.95"/>
<circle cx="118.2" cy="518" r="1.95"/>
<circle cx="120.9" cy="516.9" r="1.95"/>
<circle cx="116.6" cy="521.2" r="1.95"/>
<circle cx="119.8" cy="522.7" r="1.95"/>
<circle cx="115" cy="525.9" r="1.95"/>
<circle cx="117.7" cy="524.9" r="1.95"/>
<circle cx="134.1" cy="429.4" r="1.95"/>
<circle cx="134.1" cy="469.8" r="1.95"/>
<circle cx="130.4" cy="489.2" r="1.95"/>
<circle cx="134.1" cy="492.4" r="1.95"/>
<circle cx="130.2" cy="503.7" r="1.95"/>
<circle cx="137.8" cy="504.8" r="1.95"/>
<circle cx="130.4" cy="508.5" r="1.95"/>
<circle cx="134.1" cy="509.7" r="1.95"/>
<circle cx="137.8" cy="512.2" r="1.95"/>
<circle cx="134.1" cy="513.7" r="1.95"/>
<circle cx="132.3" cy="519.6" r="1.95"/>
<circle cx="135.9" cy="519" r="1.95"/>
<circle cx="150.7" cy="466.7" r="1.95"/>
<circle cx="150.7" cy="473" r="1.95"/>
<circle cx="154.7" cy="477.2" r="1.95"/>
<circle cx="147.1" cy="481.3" r="1.95"/>
<circle cx="150.7" cy="480.2" r="1.95"/>
<circle cx="154.7" cy="482.3" r="1.95"/>
<circle cx="150.7" cy="486.6" r="1.95"/>
<circle cx="146.8" cy="492.1" r="1.95"/>
<circle cx="150.5" cy="495.2" r="1.95"/>
<circle cx="148.9" cy="505.3" r="1.95"/>
<circle cx="153.1" cy="507.9" r="1.95"/>
<circle cx="151" cy="512.2" r="1.95"/>
<circle cx="146.8" cy="514.8" r="1.95"/>
<circle cx="151" cy="518" r="1.95"/>
<circle cx="151" cy="522" r="1.95"/>
<circle cx="154.7" cy="523.3" r="1.95"/>
<circle cx="147.1" cy="526.4" r="1.95"/>
<circle cx="163.6" cy="431" r="1.95"/>
<circle cx="167.5" cy="429.4" r="1.95"/>
<circle cx="171.3" cy="427.9" r="1.95"/>
<circle cx="171.3" cy="432.1" r="1.95"/>
<circle cx="167.5" cy="469.8" r="1.95"/>
<circle cx="163.8" cy="487.7" r="1.95"/>
<circle cx="167.5" cy="489.7" r="1.95"/>
<circle cx="171.4" cy="487.3" r="1.95"/>
<circle cx="163.8" cy="499.9" r="1.95"/>
<circle cx="171.4" cy="498.7" r="1.95"/>
<circle cx="171.4" cy="502.6" r="1.95"/>
<circle cx="163.8" cy="508.9" r="1.95"/>
<circle cx="167.5" cy="511.4" r="1.95"/>
<circle cx="171.4" cy="510.6" r="1.95"/>
<circle cx="167.5" cy="515.7" r="1.95"/>
<circle cx="167.5" cy="525" r="1.95"/>
<circle cx="63.8" cy="523.4" r="1.95"/>
<circle cx="69.7" cy="523.4" r="1.95"/>
</g>
<text x="253.1" y="393.8" font-size="11.4" textLength="58.9" lengthAdjust="spacingAndGlyphs" fill="#000" stroke="#000" stroke-width="0.2">CD4 T cells</text>
<line x1="221.2" y1="422.8" x2="340.8" y2="422.8" stroke="#a8082a" stroke-width="1.7" stroke-dasharray="4.6 2.75"/>
<line x1="221.2" y1="432" x2="340.8" y2="432" stroke="#a8082a" stroke-width="1.7" stroke-dasharray="4.6 2.75"/>
<line x1="221.2" y1="401.1" x2="221.2" y2="433" stroke="#000" stroke-width="1.5"/>
<line x1="217.2" y1="433" x2="225.2" y2="433" stroke="#000" stroke-width="1.5"/>
<line x1="217.2" y1="404.7" x2="221.2" y2="404.7" stroke="#000" stroke-width="1.2"/>
<line x1="217.2" y1="423.4" x2="221.2" y2="423.4" stroke="#000" stroke-width="1.2"/>
<line x1="221.2" y1="442.4" x2="221.2" y2="527.2" stroke="#000" stroke-width="1.5"/>
<line x1="217.2" y1="442.4" x2="225.2" y2="442.4" stroke="#000" stroke-width="1.5"/>
<line x1="217.2" y1="459.4" x2="221.2" y2="459.4" stroke="#000" stroke-width="1.2"/>
<line x1="217.2" y1="476.4" x2="221.2" y2="476.4" stroke="#000" stroke-width="1.2"/>
<line x1="217.2" y1="493.3" x2="221.2" y2="493.3" stroke="#000" stroke-width="1.2"/>
<line x1="217.2" y1="510.2" x2="221.2" y2="510.2" stroke="#000" stroke-width="1.2"/>
<line x1="217.2" y1="527.2" x2="221.2" y2="527.2" stroke="#000" stroke-width="1.2"/>
<line x1="216.9" y1="527.2" x2="343.8" y2="527.2" stroke="#000" stroke-width="1.7"/>
<line x1="232" y1="527.2" x2="232" y2="531.2" stroke="#000" stroke-width="1"/>
<text x="232" y="543" font-size="8.4" text-anchor="middle">1</text>
<line x1="248.77" y1="527.2" x2="248.77" y2="531.2" stroke="#000" stroke-width="1"/>
<text x="248.77" y="543" font-size="8.4" text-anchor="middle">2</text>
<line x1="265.54" y1="527.2" x2="265.54" y2="531.2" stroke="#000" stroke-width="1"/>
<text x="265.54" y="543" font-size="8.4" text-anchor="middle">3</text>
<line x1="282.31" y1="527.2" x2="282.31" y2="531.2" stroke="#000" stroke-width="1"/>
<text x="282.31" y="543" font-size="8.4" text-anchor="middle">4</text>
<line x1="299.08" y1="527.2" x2="299.08" y2="531.2" stroke="#000" stroke-width="1"/>
<text x="299.08" y="543" font-size="8.4" text-anchor="middle">5</text>
<line x1="315.85" y1="527.2" x2="315.85" y2="531.2" stroke="#000" stroke-width="1"/>
<text x="315.85" y="543" font-size="8.4" text-anchor="middle">6</text>
<line x1="332.62" y1="527.2" x2="332.62" y2="531.2" stroke="#000" stroke-width="1"/>
<text x="332.62" y="543" font-size="8.4" text-anchor="middle">12</text>
<text x="212.1" y="408" font-size="9.2" text-anchor="end">2000</text>
<text x="212.1" y="426.7" font-size="9.2" text-anchor="end">1000</text>
<text x="212.1" y="445.7" font-size="9.2" text-anchor="end">500</text>
<text x="212.1" y="462.7" font-size="9.2" text-anchor="end">400</text>
<text x="212.1" y="479.7" font-size="9.2" text-anchor="end">300</text>
<text x="212.1" y="496.6" font-size="9.2" text-anchor="end">200</text>
<text x="212.1" y="513.5" font-size="9.2" text-anchor="end">100</text>
<text x="212.1" y="530.5" font-size="9.2" text-anchor="end">0</text>
<text x="256.9" y="559.4" font-size="11.2" textLength="51.4" lengthAdjust="spacingAndGlyphs" stroke="#111" stroke-width="0.4">Time (months)</text>
<line x1="241.9" y1="518.9" x2="255.6" y2="518.9" stroke="#000" stroke-width="1.5"/>
<line x1="258.7" y1="517.2" x2="272.5" y2="517.2" stroke="#000" stroke-width="1.5"/>
<line x1="275.6" y1="516.9" x2="288.8" y2="516.9" stroke="#000" stroke-width="1.5"/>
<line x1="292.4" y1="514.5" x2="305.1" y2="514.5" stroke="#000" stroke-width="1.5"/>
<line x1="309.2" y1="512.4" x2="322.5" y2="512.4" stroke="#000" stroke-width="1.5"/>
<line x1="324.6" y1="501.7" x2="339.8" y2="501.7" stroke="#000" stroke-width="1.5"/>
<polygon points="228,527.5 230,524.1 234.8,524.1 236.8,527.5" fill="#4e5467" stroke="#4e5467" stroke-width="4.4" stroke-linejoin="round"/>
<polygon points="245,527.7 246.4,521.8 251.6,521.8 253,527.7" fill="#4e5467" stroke="#4e5467" stroke-width="4" stroke-linejoin="round"/>
<g fill="none" stroke="#3e4355" stroke-width="1.2">
<circle cx="232.2" cy="513.6" r="1.95"/>
<circle cx="232.2" cy="515.7" r="1.95"/>
<circle cx="232.2" cy="517.7" r="1.95"/>
<circle cx="232.2" cy="519.8" r="1.95"/>
<circle cx="248.7" cy="495.8" r="1.95"/>
<circle cx="248.7" cy="501.9" r="1.95"/>
<circle cx="248.7" cy="502.4" r="1.95"/>
<circle cx="248.7" cy="507.7" r="1.95"/>
<circle cx="248.7" cy="509.6" r="1.95"/>
<circle cx="247.5" cy="512.6" r="1.95"/>
<circle cx="251" cy="513.6" r="1.95"/>
<circle cx="248.7" cy="515.2" r="1.95"/>
<circle cx="246" cy="518" r="1.95"/>
<circle cx="251.5" cy="518" r="1.95"/>
<circle cx="265.6" cy="444.4" r="1.95"/>
<circle cx="264.6" cy="492" r="1.95"/>
<circle cx="266.3" cy="495.3" r="1.95"/>
<circle cx="263.3" cy="504" r="1.95"/>
<circle cx="267.9" cy="505.5" r="1.95"/>
<circle cx="265.8" cy="507.5" r="1.95"/>
<circle cx="266.3" cy="510.1" r="1.95"/>
<circle cx="264.3" cy="513.1" r="1.95"/>
<circle cx="269.4" cy="513.6" r="1.95"/>
<circle cx="261.8" cy="516.7" r="1.95"/>
<circle cx="266.9" cy="516.2" r="1.95"/>
<circle cx="269.9" cy="518.2" r="1.95"/>
<circle cx="261.2" cy="520.3" r="1.95"/>
<circle cx="265.3" cy="520.3" r="1.95"/>
<circle cx="268.9" cy="521.8" r="1.95"/>
<circle cx="261.8" cy="524.3" r="1.95"/>
<circle cx="265.8" cy="524.3" r="1.95"/>
<circle cx="269.4" cy="524.3" r="1.95"/>
<circle cx="281.7" cy="487.6" r="1.95"/>
<circle cx="283" cy="485.9" r="1.95"/>
<circle cx="283" cy="502.4" r="1.95"/>
<circle cx="284.7" cy="504.5" r="1.95"/>
<circle cx="279.6" cy="506.7" r="1.95"/>
<circle cx="281.7" cy="508" r="1.95"/>
<circle cx="279.6" cy="513.1" r="1.95"/>
<circle cx="282.7" cy="512.6" r="1.95"/>
<circle cx="286.3" cy="513.1" r="1.95"/>
<circle cx="280.2" cy="516.2" r="1.95"/>
<circle cx="284.2" cy="516.2" r="1.95"/>
<circle cx="278.6" cy="521.3" r="1.95"/>
<circle cx="282.2" cy="520.3" r="1.95"/>
<circle cx="286.3" cy="522.3" r="1.95"/>
<circle cx="278.6" cy="524.9" r="1.95"/>
<circle cx="282.2" cy="523.8" r="1.95"/>
<circle cx="284.7" cy="524.9" r="1.95"/>
<circle cx="299" cy="481.5" r="1.95"/>
<circle cx="297.5" cy="496.8" r="1.95"/>
<circle cx="300" cy="495.8" r="1.95"/>
<circle cx="299" cy="505" r="1.95"/>
<circle cx="299" cy="509.1" r="1.95"/>
<circle cx="294.9" cy="514.7" r="1.95"/>
<circle cx="298" cy="514.1" r="1.95"/>
<circle cx="301.6" cy="514.1" r="1.95"/>
<circle cx="304.1" cy="514.7" r="1.95"/>
<circle cx="296.5" cy="516.2" r="1.95"/>
<circle cx="301.1" cy="516.2" r="1.95"/>
<circle cx="299" cy="517.5" r="1.95"/>
<circle cx="299" cy="524.3" r="1.95"/>
<circle cx="315.4" cy="461.3" r="1.95"/>
<circle cx="315.4" cy="472.6" r="1.95"/>
<circle cx="313.3" cy="503.6" r="1.95"/>
<circle cx="315.8" cy="502.9" r="1.95"/>
<circle cx="318.4" cy="502.9" r="1.95"/>
<circle cx="315.8" cy="507.5" r="1.95"/>
<circle cx="311.8" cy="511.1" r="1.95"/>
<circle cx="317.4" cy="511.6" r="1.95"/>
<circle cx="313.8" cy="515.2" r="1.95"/>
<circle cx="317.9" cy="515.7" r="1.95"/>
<circle cx="315.8" cy="518.7" r="1.95"/>
<circle cx="311.8" cy="521.3" r="1.95"/>
<circle cx="319.4" cy="521.3" r="1.95"/>
<circle cx="315.8" cy="520.3" r="1.95"/>
<circle cx="332.2" cy="443" r="1.95"/>
<circle cx="330.5" cy="464.2" r="1.95"/>
<circle cx="334" cy="464.2" r="1.95"/>
<circle cx="332.2" cy="478" r="1.95"/>
<circle cx="332.4" cy="483.8" r="1.95"/>
<circle cx="332.4" cy="488.4" r="1.95"/>
<circle cx="332.4" cy="495.3" r="1.95"/>
<circle cx="332.4" cy="498.9" r="1.95"/>
<circle cx="332.4" cy="504.4" r="1.95"/>
<circle cx="328.5" cy="508.2" r="1.95"/>
<circle cx="330.8" cy="509.6" r="1.95"/>
<circle cx="328.5" cy="512.3" r="1.95"/>
<circle cx="333.5" cy="512.8" r="1.95"/>
<circle cx="336.2" cy="511.1" r="1.95"/>
<circle cx="331.2" cy="521.4" r="1.95"/>
<circle cx="333.7" cy="520.5" r="1.95"/>
<circle cx="245.8" cy="521.5" r="1.95"/>
<circle cx="252.2" cy="521.5" r="1.95"/>
<circle cx="229.2" cy="523.6" r="1.95"/>
<circle cx="235.6" cy="523.6" r="1.95"/>
</g>
<text x="431.5" y="393.7" font-size="11.4" textLength="33.5" lengthAdjust="spacingAndGlyphs" fill="#000" stroke="#000" stroke-width="0.2">B cells</text>
<line x1="385.8" y1="452.8" x2="504.5" y2="452.8" stroke="#a8082a" stroke-width="1.7" stroke-dasharray="4.6 2.75"/>
<line x1="385.8" y1="508" x2="504.5" y2="508" stroke="#a8082a" stroke-width="1.7" stroke-dasharray="4.6 2.75"/>
<line x1="385.8" y1="401.1" x2="385.8" y2="432.8" stroke="#000" stroke-width="1.5"/>
<line x1="381.8" y1="432.8" x2="389.8" y2="432.8" stroke="#000" stroke-width="1.5"/>
<line x1="381.8" y1="404.7" x2="385.8" y2="404.7" stroke="#000" stroke-width="1.2"/>
<line x1="381.8" y1="423.4" x2="385.8" y2="423.4" stroke="#000" stroke-width="1.2"/>
<line x1="385.8" y1="442.3" x2="385.8" y2="527.2" stroke="#000" stroke-width="1.5"/>
<line x1="381.8" y1="442.3" x2="389.8" y2="442.3" stroke="#000" stroke-width="1.5"/>
<line x1="381.8" y1="459.3" x2="385.8" y2="459.3" stroke="#000" stroke-width="1.2"/>
<line x1="381.8" y1="476.3" x2="385.8" y2="476.3" stroke="#000" stroke-width="1.2"/>
<line x1="381.8" y1="493.2" x2="385.8" y2="493.2" stroke="#000" stroke-width="1.2"/>
<line x1="381.8" y1="510.2" x2="385.8" y2="510.2" stroke="#000" stroke-width="1.2"/>
<line x1="381.8" y1="527.2" x2="385.8" y2="527.2" stroke="#000" stroke-width="1.2"/>
<line x1="381.5" y1="527.2" x2="510.5" y2="527.2" stroke="#000" stroke-width="1.7"/>
<line x1="396.9" y1="527.2" x2="396.9" y2="531.2" stroke="#000" stroke-width="1"/>
<text x="396.9" y="543" font-size="8.4" text-anchor="middle">1</text>
<line x1="413.7" y1="527.2" x2="413.7" y2="531.2" stroke="#000" stroke-width="1"/>
<text x="413.7" y="543" font-size="8.4" text-anchor="middle">2</text>
<line x1="430.5" y1="527.2" x2="430.5" y2="531.2" stroke="#000" stroke-width="1"/>
<text x="430.5" y="543" font-size="8.4" text-anchor="middle">3</text>
<line x1="447.3" y1="527.2" x2="447.3" y2="531.2" stroke="#000" stroke-width="1"/>
<text x="447.3" y="543" font-size="8.4" text-anchor="middle">4</text>
<line x1="464.1" y1="527.2" x2="464.1" y2="531.2" stroke="#000" stroke-width="1"/>
<text x="464.1" y="543" font-size="8.4" text-anchor="middle">5</text>
<line x1="480.9" y1="527.2" x2="480.9" y2="531.2" stroke="#000" stroke-width="1"/>
<text x="480.9" y="543" font-size="8.4" text-anchor="middle">6</text>
<line x1="497.7" y1="527.2" x2="497.7" y2="531.2" stroke="#000" stroke-width="1"/>
<text x="497.7" y="543" font-size="8.4" text-anchor="middle">12</text>
<text x="377.1" y="408" font-size="9.2" text-anchor="end">2000</text>
<text x="377.1" y="426.7" font-size="9.2" text-anchor="end">1000</text>
<text x="377.1" y="445.6" font-size="9.2" text-anchor="end">500</text>
<text x="377.1" y="462.6" font-size="9.2" text-anchor="end">400</text>
<text x="377.1" y="479.6" font-size="9.2" text-anchor="end">300</text>
<text x="377.1" y="496.5" font-size="9.2" text-anchor="end">200</text>
<text x="377.1" y="513.5" font-size="9.2" text-anchor="end">100</text>
<text x="377.1" y="530.5" font-size="9.2" text-anchor="end">0</text>
<text x="422.3" y="559.4" font-size="11.2" textLength="51.4" lengthAdjust="spacingAndGlyphs" stroke="#111" stroke-width="0.4">Time (months)</text>
<line x1="406.6" y1="522" x2="420.4" y2="522" stroke="#000" stroke-width="1.5"/>
<line x1="423.6" y1="502.3" x2="437.3" y2="502.3" stroke="#000" stroke-width="1.5"/>
<line x1="440.4" y1="504.9" x2="454" y2="504.9" stroke="#000" stroke-width="1.5"/>
<line x1="457.5" y1="514.2" x2="470.6" y2="514.2" stroke="#000" stroke-width="1.5"/>
<line x1="474.2" y1="486.7" x2="487.6" y2="486.7" stroke="#000" stroke-width="1.5"/>
<line x1="491" y1="491.7" x2="504.7" y2="491.7" stroke="#000" stroke-width="1.5"/>
<polygon points="392.9,527.7 394.9,525.4 398.9,525.4 400.9,527.7" fill="#4e5467" stroke="#4e5467" stroke-width="4" stroke-linejoin="round"/>
<polygon points="410.1,527.7 411.65,526.8 415.65,526.8 417.2,527.7" fill="#4e5467" stroke="#4e5467" stroke-width="4" stroke-linejoin="round"/>
<polygon points="426.4,527.4 427.8,527.3 433.2,527.3 434.6,527.4" fill="#4e5467" stroke="#4e5467" stroke-width="3.6" stroke-linejoin="round"/>
<polygon points="443.4,527.2 444.45,526.9 449.85,526.9 450.9,527.2" fill="#4e5467" stroke="#4e5467" stroke-width="3.6" stroke-linejoin="round"/>
<g fill="none" stroke="#3e4355" stroke-width="1.2">
<circle cx="396.8" cy="520.3" r="1.95"/>
<circle cx="413.7" cy="474.1" r="1.95"/>
<circle cx="413.7" cy="477.9" r="1.95"/>
<circle cx="413.7" cy="483.6" r="1.95"/>
<circle cx="413.7" cy="484.4" r="1.95"/>
<circle cx="413.7" cy="500.8" r="1.95"/>
<circle cx="413.7" cy="507.6" r="1.95"/>
<circle cx="413.7" cy="508.7" r="1.95"/>
<circle cx="413.7" cy="513.5" r="1.95"/>
<circle cx="413.7" cy="517.1" r="1.95"/>
<circle cx="413.7" cy="520.3" r="1.95"/>
<circle cx="411.5" cy="523.5" r="1.95"/>
<circle cx="415.5" cy="523" r="1.95"/>
<circle cx="429.7" cy="428.9" r="1.95"/>
<circle cx="433.1" cy="428.9" r="1.95"/>
<circle cx="431.5" cy="431.3" r="1.95"/>
<circle cx="428.9" cy="468" r="1.95"/>
<circle cx="430.4" cy="470.7" r="1.95"/>
<circle cx="431.7" cy="470.9" r="1.95"/>
<circle cx="431.3" cy="477.9" r="1.95"/>
<circle cx="429.6" cy="481.3" r="1.95"/>
<circle cx="432" cy="494.2" r="1.95"/>
<circle cx="430.4" cy="495.5" r="1.95"/>
<circle cx="430.4" cy="499.5" r="1.95"/>
<circle cx="430.4" cy="504.8" r="1.95"/>
<circle cx="430.4" cy="509.7" r="1.95"/>
<circle cx="427.8" cy="519" r="1.95"/>
<circle cx="431.5" cy="518.5" r="1.95"/>
<circle cx="429.9" cy="520.9" r="1.95"/>
<circle cx="447.4" cy="451.7" r="1.95"/>
<circle cx="447.4" cy="454.6" r="1.95"/>
<circle cx="447.4" cy="457.3" r="1.95"/>
<circle cx="447.4" cy="458.7" r="1.95"/>
<circle cx="447.4" cy="461.1" r="1.95"/>
<circle cx="447.4" cy="472.8" r="1.95"/>
<circle cx="447.4" cy="481.2" r="1.95"/>
<circle cx="447.4" cy="487.4" r="1.95"/>
<circle cx="447.4" cy="488.3" r="1.95"/>
<circle cx="447.2" cy="500.6" r="1.95"/>
<circle cx="447.2" cy="508.4" r="1.95"/>
<circle cx="447.2" cy="510.7" r="1.95"/>
<circle cx="447.2" cy="513.5" r="1.95"/>
<circle cx="447.2" cy="522.1" r="1.95"/>
<circle cx="464.1" cy="451.8" r="1.95"/>
<circle cx="460.1" cy="477.8" r="1.95"/>
<circle cx="464.1" cy="479" r="1.95"/>
<circle cx="467.9" cy="475.5" r="1.95"/>
<circle cx="464.2" cy="495.6" r="1.95"/>
<circle cx="462.1" cy="516.2" r="1.95"/>
<circle cx="465.8" cy="514" r="1.95"/>
<circle cx="464.2" cy="522.5" r="1.95"/>
<circle cx="460.5" cy="527.1" r="1.95"/>
<circle cx="464.2" cy="526.7" r="1.95"/>
<circle cx="468" cy="527.1" r="1.95"/>
<circle cx="480.8" cy="427.2" r="1.95"/>
<circle cx="478.2" cy="450.3" r="1.95"/>
<circle cx="480.8" cy="450.3" r="1.95"/>
<circle cx="483.5" cy="451.3" r="1.95"/>
<circle cx="480.8" cy="470.6" r="1.95"/>
<circle cx="476.8" cy="482.5" r="1.95"/>
<circle cx="480.5" cy="482.5" r="1.95"/>
<circle cx="484.7" cy="482.5" r="1.95"/>
<circle cx="476.8" cy="489.9" r="1.95"/>
<circle cx="480.5" cy="490.4" r="1.95"/>
<circle cx="484.7" cy="489.6" r="1.95"/>
<circle cx="477.9" cy="506.1" r="1.95"/>
<circle cx="483.4" cy="506.1" r="1.95"/>
<circle cx="480.5" cy="508.8" r="1.95"/>
<circle cx="495.8" cy="428.5" r="1.95"/>
<circle cx="499.4" cy="430.1" r="1.95"/>
<circle cx="494.1" cy="448.9" r="1.95"/>
<circle cx="497.7" cy="451.3" r="1.95"/>
<circle cx="501.6" cy="448.9" r="1.95"/>
<circle cx="497.7" cy="459.5" r="1.95"/>
<circle cx="497.7" cy="466" r="1.95"/>
<circle cx="497.5" cy="487.8" r="1.95"/>
<circle cx="497.5" cy="492.5" r="1.95"/>
<circle cx="494.2" cy="494.6" r="1.95"/>
<circle cx="494.2" cy="498.8" r="1.95"/>
<circle cx="497.8" cy="497.7" r="1.95"/>
<circle cx="501.5" cy="498.8" r="1.95"/>
<circle cx="497.5" cy="505.4" r="1.95"/>
<circle cx="497.5" cy="511.4" r="1.95"/>
<circle cx="499.4" cy="525" r="1.95"/>
<circle cx="495.7" cy="526.6" r="1.95"/>
<circle cx="478.3" cy="527.1" r="1.95"/>
<circle cx="480.6" cy="527.1" r="1.95"/>
<circle cx="482.9" cy="527.1" r="1.95"/>
<circle cx="393.6" cy="525.2" r="1.95"/>
<circle cx="400.2" cy="525.2" r="1.95"/>
<circle cx="410.6" cy="526.2" r="1.95"/>
<circle cx="416.8" cy="526.2" r="1.95"/>
<circle cx="427.4" cy="527" r="1.95"/>
<circle cx="433.6" cy="527" r="1.95"/>
<circle cx="444.2" cy="526.8" r="1.95"/>
<circle cx="450.2" cy="526.8" r="1.95"/>
</g>
<rect x="0.75" y="0.75" width="518.5" height="569.5" fill="none" stroke="#000" stroke-width="1.5"/>
</svg></body></html>
